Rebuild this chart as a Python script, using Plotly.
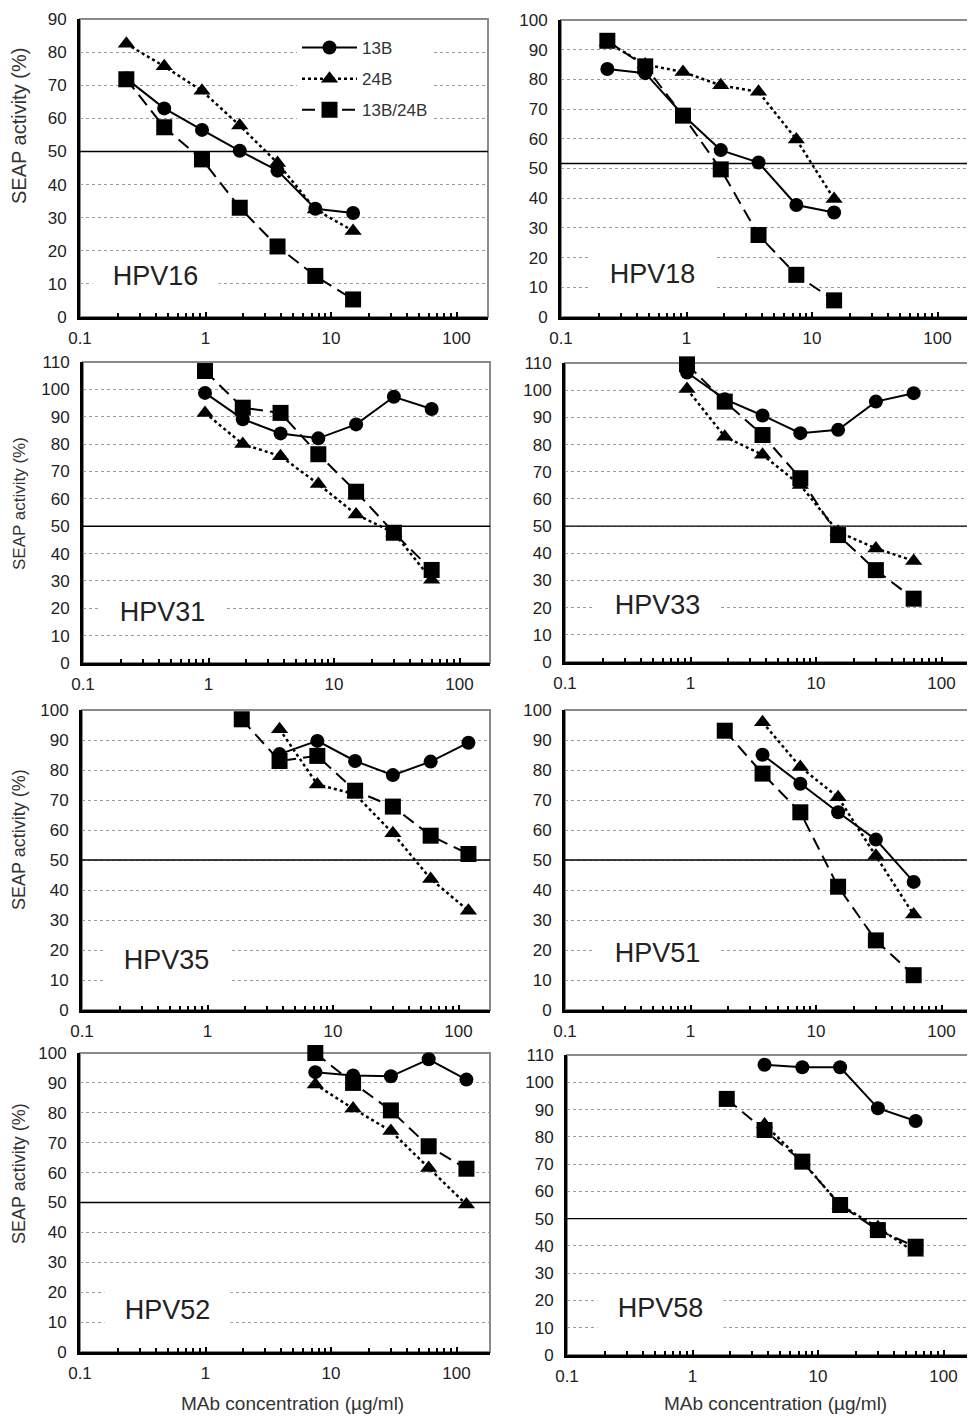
import plotly.graph_objects as go

# ---------------- data ----------------
conc_a = [0.234, 0.469, 0.938, 1.875, 3.75, 7.5, 15]
conc_b = [0.938, 1.875, 3.75, 7.5, 15, 30, 60]
conc_c = [1.875, 3.75, 7.5, 15, 30, 60, 120]
conc_d = [1.875, 3.75, 7.5, 15, 30, 60]
conc_e = [7.5, 15, 30, 60, 120]

series_names = ["13B", "24B", "13B/24B"]
panel_names = ["HPV16", "HPV18", "HPV31", "HPV33", "HPV35", "HPV51", "HPV52", "HPV58"]
panel_conc = [conc_a, conc_a, conc_b, conc_b, conc_c, conc_d, conc_e, conc_d]

hpv16_13b = [72, 63, 56.5, 50.2, 44.2, 32.7, 31.4]
hpv16_24b = [82.5, 75.7, 68.3, 57.8, 46.5, 32.5, 26]
hpv16_mix = [71.8, 57.3, 47.6, 33, 21.3, 12.4, 5.3]

hpv18_13b = [83.5, 82.1, 68, 56.2, 52, 37.7, 35.2]
hpv18_24b = [92.5, 85, 82.5, 78, 75.8, 59.8, 39.7]
hpv18_mix = [93, 84.4, 67.8, 49.7, 27.6, 14.2, 5.6]

hpv31_13b = [98.7, 89.1, 83.9, 82.1, 87.2, 97.3, 92.8]
hpv31_24b = [91.4, 80, 75.6, 65.4, 54.3, 47.6, 30.4]
hpv31_mix = [106.7, 93.3, 91.4, 76.3, 62.6, 47.6, 34]

hpv33_13b = [106.5, 96.7, 90.7, 84.2, 85.4, 95.8, 98.9]
hpv33_24b = [100.4, 82.9, 76.2, 65.1, 47.9, 41.8, 37.2]
hpv33_mix = [109.5, 95.8, 83.5, 67.6, 46.7, 33.8, 23.3]

hpv35_13b = [None, 85.3, 89.7, 83, 78.3, 82.8, 89.1]
hpv35_24b = [None, 93.6, 75.2, 71.9, 58.9, 43.7, 33.1]
hpv35_mix = [96.9, 83, 84.7, 73.1, 67.8, 58.1, 52]

hpv51_13b = [None, 85.1, 75.4, 65.9, 56.8, 42.7]
hpv51_24b = [None, 95.9, 81, 70.9, 51.4, 31.8]
hpv51_mix = [93.1, 78.8, 65.9, 41.1, 23.2, 11.6]

hpv52_13b = [93.6, 92.5, 92.2, 97.9, 91.1]
hpv52_24b = [89.5, 81.4, 73.9, 61.5, 49.3]
hpv52_mix = [100, 90, 80.8, 68.8, 61.3]

hpv58_13b = [None, 106.4, 105.5, 105.5, 90.5, 85.8]
hpv58_24b = [None, 84.5, 71, 55, 46.8, 37.5]
hpv58_mix = [93.9, 82.5, 70.9, 55, 45.8, 39.7]

panel_values = [
    [hpv16_13b, hpv16_24b, hpv16_mix],
    [hpv18_13b, hpv18_24b, hpv18_mix],
    [hpv31_13b, hpv31_24b, hpv31_mix],
    [hpv33_13b, hpv33_24b, hpv33_mix],
    [hpv35_13b, hpv35_24b, hpv35_mix],
    [hpv51_13b, hpv51_24b, hpv51_mix],
    [hpv52_13b, hpv52_24b, hpv52_mix],
    [hpv58_13b, hpv58_24b, hpv58_mix],
]
panel_ymax = [90, 100, 110, 110, 100, 100, 100, 110]
ref_level = [50, 51.7, 50, 50, 50, 50, 50, 50]

x_tickvals = [0.1, 1, 10, 100]
x_ticktext = ["0.1", "1", "10", "100"]

# ---------------- layout geometry (page pixels) ----------------
OFF = 8                       # default page margin around the figure
W, H = 975 - OFF, 1418 - OFF  # figure size
DECADE = 125.5


def px(x):
    return (x - OFF) / W


def py(y):
    return 1 - (y - OFF) / H


# left, right, top, bottom (plot-area page pixels)
boxes = [
    (80, 488, 19, 317),
    (561, 971, 20, 317),
    (83, 490, 362, 663),
    (565, 974, 363, 662),
    (82, 490, 710, 1010),
    (565, 974, 710, 1010),
    (80, 490, 1053, 1352),
    (567, 974, 1055, 1355),
]
label_pos = [(155, 276), (652, 274), (162, 612), (657, 605),
             (166, 960), (657, 953), (167, 1310), (660, 1308)]
ytitle_pos = [(19, 126, 20), (19, 504, 17), (19, 840, 18), (19, 1174, 18)]
xtitle_pos = [(292, 1403), (775, 1403)]

styles = [
    dict(dash="solid", symbol="circle", size=14, width=2),
    dict(dash="dot", symbol="triangle-up", size=15, width=2.5),
    dict(dash="13px,7px", symbol="square", size=16, width=2),
]

FONT = "Liberation Sans, Arial, sans-serif"
fig = go.Figure()

minor_vals = [m * 10 ** e for e in (-1, 0, 1) for m in range(2, 10)] + [200]

for i in range(8):
    left, right, top, bottom = boxes[i]
    xa = "x" if i == 0 else f"x{i+1}"
    ya = "y" if i == 0 else f"y{i+1}"
    for j in range(3):
        st = styles[j]
        fig.add_trace(go.Scatter(
            x=panel_conc[i], y=panel_values[i][j], mode="lines+markers",
            name=series_names[j], legendgroup=series_names[j],
            showlegend=(i == 0),
            line=dict(color="black", width=st["width"], dash=st["dash"]),
            marker=dict(symbol=st["symbol"], size=st["size"], color="black"),
            xaxis=xa, yaxis=ya, cliponaxis=False,
        ))
    xmax = -1 + (right - left) / DECADE
    xkey = "xaxis" if i == 0 else f"xaxis{i+1}"
    ykey = "yaxis" if i == 0 else f"yaxis{i+1}"
    fig.update_layout({
        xkey: dict(
            domain=[max(0, px(left)), min(1, px(right))], type="log", range=[-1, xmax],
            anchor=ya, tickvals=x_tickvals, ticktext=x_ticktext,
            showgrid=False, zeroline=False, showline=True, linecolor="black",
            linewidth=3, ticks="inside", ticklen=5, tickwidth=2, tickcolor="black",
            minor=dict(tickvals=minor_vals, ticks="inside", ticklen=4,
                       tickwidth=2, tickcolor="black", showgrid=False),
            tickfont=dict(size=17, color="#222", family=FONT),
            ticklabelstandoff=4, automargin=False, ticklabeloverflow="allow",
        ),
        ykey: dict(
            domain=[py(bottom), py(top)], range=[0, panel_ymax[i]],
            anchor=xa, dtick=10, tick0=0, showgrid=True, gridcolor="#9a9a9a",
            griddash="dot", gridwidth=1, zeroline=False, showline=True,
            linecolor="black", linewidth=3, ticks="",
            tickfont=dict(size=17, color="#222", family=FONT),
            ticklabelstandoff=7, automargin=False, ticklabeloverflow="allow",
        ),
    })
    # grey frame (top / right)
    fig.add_shape(type="rect", xref=f"{xa} domain", yref=f"{ya} domain",
                  x0=0, x1=1, y0=0, y1=1, line=dict(color="#8a8a8a", width=2),
                  layer="below")
    # 50% reference line
    fig.add_shape(type="line", xref=f"{xa} domain", yref=ya, x0=0, x1=1,
                  y0=ref_level[i], y1=ref_level[i],
                  line=dict(color="black", width=1.4), layer="above")
    lx, ly = label_pos[i]
    fig.add_annotation(x=px(lx), y=py(ly), xref="paper", yref="paper",
                       xanchor="center", yanchor="middle",
                       text=panel_names[i], showarrow=False, bgcolor="white",
                       width=123, height=40, align="center", valign="middle",
                       font=dict(size=27, color="#222", family=FONT))

for (tx, ty, fs) in ytitle_pos:
    fig.add_annotation(x=px(tx), y=py(ty), xref="paper", yref="paper",
                       xanchor="center", yanchor="middle",
                       text="SEAP activity (%)", showarrow=False, textangle=-90,
                       font=dict(size=fs, color="#333", family=FONT))
for (tx, ty) in xtitle_pos:
    fig.add_annotation(x=px(tx), y=py(ty), xref="paper", yref="paper",
                       xanchor="center", yanchor="middle",
                       text="MAb concentration (µg/ml)", showarrow=False,
                       font=dict(size=19, color="#333", family=FONT))

fig.update_layout(
    width=W, height=H, margin=dict(l=0, r=0, t=0, b=0, autoexpand=False),
    paper_bgcolor="white", plot_bgcolor="white",
    font=dict(family=FONT, color="#222"),
    legend=dict(x=px(297), y=py(30), xanchor="left", yanchor="top",
                bgcolor="white", font=dict(size=17, color="#333", family=FONT),
                itemwidth=55, tracegroupgap=6),
)

fig.write_html("out.html")
